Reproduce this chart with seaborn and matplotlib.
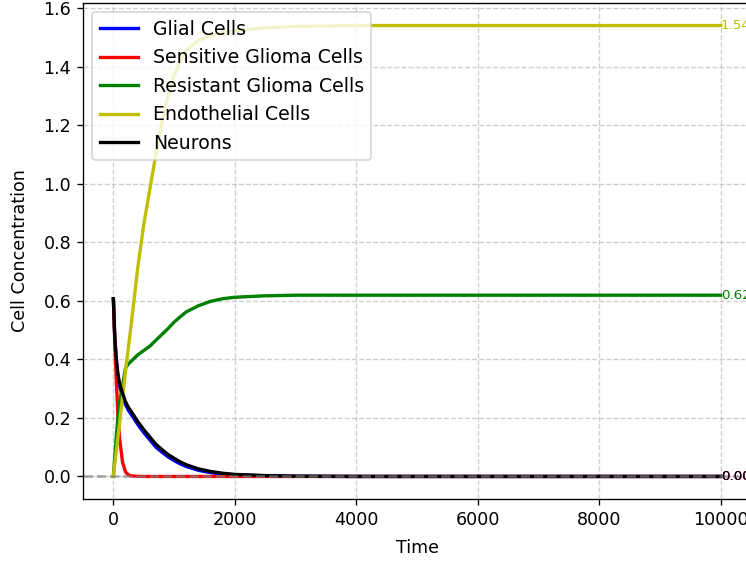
import matplotlib
matplotlib.use("Agg")
import matplotlib.pyplot as plt
import seaborn as sns
import pandas as pd
import numpy as np

time = [0, 25, 50, 75, 100, 150, 200, 250, 300, 400, 500, 600, 700, 800, 900,
        1000, 1100, 1200, 1400, 1600, 1800, 2000, 2500, 3000, 4000, 6000, 8000, 10000]

glial = [0.607, 0.46, 0.39, 0.34, 0.31, 0.275, 0.245, 0.225, 0.21, 0.178, 0.15, 0.125, 0.10,
         0.083, 0.067, 0.054, 0.043, 0.034, 0.021, 0.013, 0.008, 0.005, 0.002, 0.0005,
         0.0, 0.0, 0.0, 0.0]
sensitive = [0.607, 0.45, 0.32, 0.21, 0.135, 0.05, 0.015, 0.005, 0.002, 0.0005, 0.0, 0.0,
             0.0, 0.0, 0.0, 0.0, 0.0, 0.0, 0.0, 0.0, 0.0, 0.0, 0.0, 0.0, 0.0, 0.0, 0.0, 0.0]
resistant = [0.0, 0.07, 0.14, 0.20, 0.25, 0.31, 0.37, 0.385, 0.395, 0.415, 0.43, 0.445,
             0.465, 0.485, 0.505, 0.527, 0.545, 0.562, 0.583, 0.598, 0.607, 0.612, 0.617,
             0.619, 0.619, 0.619, 0.619, 0.619]
endothelial = [0.0, 0.045, 0.09, 0.135, 0.18, 0.27, 0.36, 0.445, 0.53, 0.71, 0.86, 0.98,
               1.10, 1.21, 1.30, 1.37, 1.42, 1.455, 1.49, 1.505, 1.515, 1.522, 1.532,
               1.537, 1.54, 1.54, 1.54, 1.54]
neurons = [0.607, 0.47, 0.40, 0.35, 0.32, 0.285, 0.255, 0.235, 0.22, 0.188, 0.16, 0.135, 0.11,
           0.092, 0.075, 0.062, 0.05, 0.04, 0.026, 0.017, 0.011, 0.007, 0.003, 0.001,
           0.0, 0.0, 0.0, 0.0]

names = ["Glial Cells", "Sensitive Glioma Cells", "Resistant Glioma Cells",
         "Endothelial Cells", "Neurons"]
colors = ["b", "r", "g", "y", "k"]
series = [glial, sensitive, resistant, endothelial, neurons]

df = pd.DataFrame({"Time": time})
for n, s in zip(names, series):
    df[n] = s
long = df.melt(id_vars="Time", var_name="Cell type", value_name="Concentration")

plt.rcParams["xtick.labelsize"] = 10.5
plt.rcParams["ytick.labelsize"] = 10.5

fig = plt.figure(figsize=(746 / 120, 563 / 120), dpi=120)
ax = fig.add_axes([83 / 746, 64 / 563, (751 - 83) / 746, (560 - 64) / 563])

sns.lineplot(data=long, x="Time", y="Concentration", hue="Cell type",
             hue_order=names, palette=dict(zip(names, colors)), linewidth=2,
             ax=ax, estimator=None, sort=False)

ax.axhline(0, color="gray", linestyle="--", linewidth=1.5, alpha=0.7)

for n, s, c in zip(names, series, colors):
    ax.text(time[-1], s[-1], f"{s[-1]:.2f}", color=c, fontsize=8, va="center")

ax.grid(True, linestyle="--", alpha=0.6)
ax.set_xlabel("Time", fontsize=10.5, labelpad=6)
ax.set_ylabel("Cell Concentration", fontsize=10.5, labelpad=9)
handles, labels = ax.get_legend_handles_labels()
ax.legend(handles, labels, loc="upper left", fontsize=11.3)

fig.savefig("out.png", dpi=120)
